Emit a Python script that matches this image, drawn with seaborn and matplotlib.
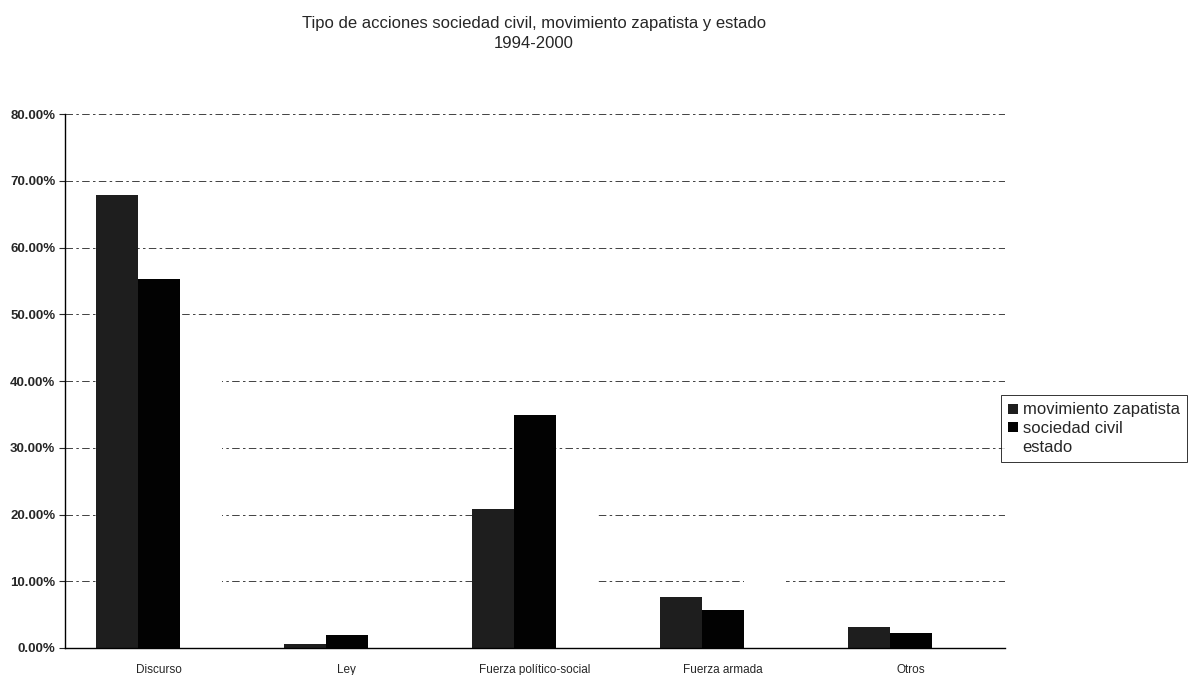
import pandas as pd
import seaborn as sns
import matplotlib.pyplot as plt
from matplotlib.ticker import PercentFormatter

# datos (porcentajes)
categorias = ['Discurso', 'Ley', 'Fuerza político-social', 'Fuerza armada', 'Otros']
series = ['movimiento zapatista', 'sociedad civil', 'estado']
zapatista = [67.8, 0.6, 20.8, 7.7, 3.1]
sociedad = [55.3, 1.9, 34.9, 5.7, 2.2]
estado = [45.0, 6.0, 26.0, 15.0, 8.0]   # barras blancas, no se ven
colores = ['#1e1e1e', '#020202', '#ffffff']

df = pd.DataFrame({
    'tipo': categorias * 3,
    'actor': [s for s in series for _ in categorias],
    'valor': zapatista + sociedad + estado,
})

sns.set_style('white')
plt.rcParams['font.family'] = ['Liberation Sans', 'DejaVu Sans']

fig = plt.figure(figsize=(12.03, 6.75), dpi=100)
ax = fig.add_axes([0.054, 0.04, 0.781, 0.791])

sns.barplot(data=df, x='tipo', y='valor', hue='actor', order=categorias,
            hue_order=series, palette=colores, width=0.67, saturation=1,
            linewidth=0, errorbar=None, ax=ax)

ax.set_xlim(-0.5, 4.5)
ax.set_ylim(0, 80)
ax.set_yticks(range(0, 81, 10))
ax.yaxis.set_major_formatter(PercentFormatter(decimals=2))
ax.set_axisbelow(True)
ax.yaxis.grid(True, color='#222222', linewidth=0.6, linestyle=(0, (9, 4, 3, 4)))
ax.xaxis.grid(False)

for s in ['top', 'right']:
    ax.spines[s].set_visible(False)
ax.spines['left'].set_color('black')
ax.spines['bottom'].set_color('black')
ax.spines['left'].set_linewidth(1.0)
ax.spines['bottom'].set_linewidth(1.0)

ax.tick_params(axis='y', left=True, length=4, width=0.8, labelsize=9.5, pad=3)
ax.tick_params(axis='x', bottom=False, labelsize=8.5, pad=8)
for t in ax.get_yticklabels():
    t.set_fontweight('bold')
for t in ax.get_xticklabels():
    t.set_family(['Liberation Sans Narrow', 'Liberation Sans'])
ax.set_xlabel('')
ax.set_ylabel('')

handles, labels = ax.get_legend_handles_labels()
ax.legend(handles, labels, loc='upper left', bbox_to_anchor=(1001 / 1203, 1 - 395 / 675),
          bbox_transform=fig.transFigure, frameon=True, fancybox=False,
          edgecolor='black', fontsize=12, handlelength=0.55, handleheight=0.55,
          handletextpad=0.3, labelspacing=0.22, borderpad=0.45, borderaxespad=0)
ax.get_legend().get_frame().set_linewidth(0.7)

fig.text(0.444, 0.965, 'Tipo de acciones sociedad civil, movimiento zapatista y estado',
         ha='center', va='center', fontsize=12)
fig.text(0.444, 0.935, '1994-2000', ha='center', va='center', fontsize=12)

fig.savefig('out.png', dpi=100)
